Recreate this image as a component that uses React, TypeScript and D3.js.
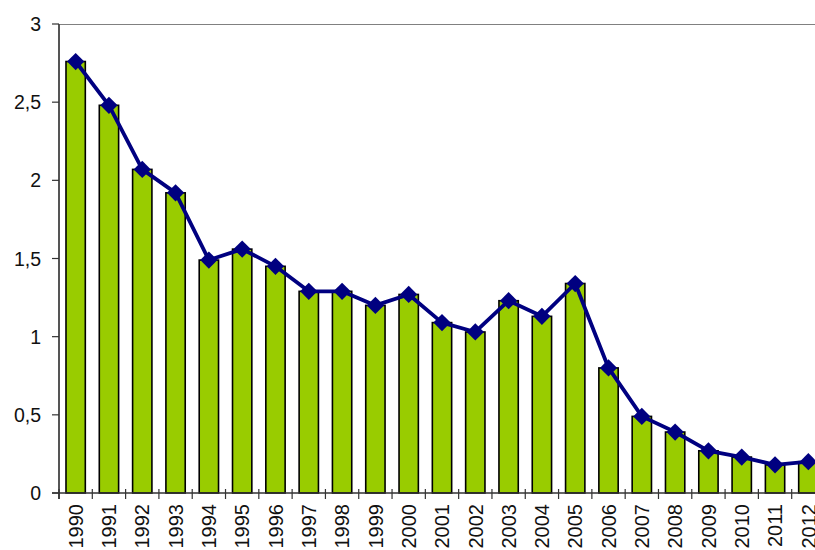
import React, { useEffect, useRef } from 'react';
import * as d3 from 'd3';

const years = ['1990', '1991', '1992', '1993', '1994', '1995', '1996', '1997', '1998', '1999', '2000', '2001',
  '2002', '2003', '2004', '2005', '2006', '2007', '2008', '2009', '2010', '2011', '2012'];
const barValues = [2.76, 2.48, 2.07, 1.92, 1.49, 1.56, 1.45, 1.29, 1.29, 1.2, 1.27, 1.09, 1.03, 1.23, 1.13,
  1.34, 0.8, 0.49, 0.39, 0.27, 0.23, 0.18, 0.2];
const lineValues = [2.76, 2.48, 2.07, 1.92, 1.49, 1.56, 1.45, 1.29, 1.29, 1.2, 1.27, 1.09, 1.03, 1.23, 1.13,
  1.34, 0.8, 0.49, 0.39, 0.27, 0.23, 0.18, 0.2];
const yTicks = [0, 0.5, 1, 1.5, 2, 2.5, 3];

const App = () => {
  const ref = useRef<SVGSVGElement>(null);

  useEffect(() => {
    const svg = d3.select(ref.current);
    svg.selectAll('*').remove();

    const left = 59, top = 24, bottom = 493, right = 825;
    const font = 'Liberation Sans, Arial, sans-serif';

    const x = d3.scaleBand().domain(years).range([left, right]).paddingInner(0).paddingOuter(0);
    const y = d3.scaleLinear().domain([0, 3]).range([bottom, top]);
    const bw = x.bandwidth();
    const barW = bw * 0.58;

    const g = svg.append('g');

    // top border of plot area
    g.append('line')
      .attr('x1', left).attr('x2', right)
      .attr('y1', top + 0.5).attr('y2', top + 0.5)
      .attr('stroke', '#808080').attr('stroke-width', 1.2);

    g.selectAll('.bar')
      .data(barValues)
      .enter().append('rect')
      .attr('x', (d, i) => x(years[i])! + (bw - barW) / 2)
      .attr('y', d => y(d))
      .attr('width', barW)
      .attr('height', d => bottom - y(d))
      .attr('fill', '#99CC00')
      .attr('stroke', '#000')
      .attr('stroke-width', 1.6);

    // y axis
    g.append('line')
      .attr('x1', left).attr('x2', left)
      .attr('y1', top).attr('y2', bottom + 6)
      .attr('stroke', '#555').attr('stroke-width', 2);
    g.selectAll('.ytick')
      .data(yTicks)
      .enter().append('line')
      .attr('x1', left - 7).attr('x2', left)
      .attr('y1', d => y(d)).attr('y2', d => y(d))
      .attr('stroke', '#333').attr('stroke-width', 1.2);
    g.selectAll('.ylab')
      .data(yTicks)
      .enter().append('text')
      .attr('x', 41)
      .attr('y', d => y(d))
      .attr('dy', '0.36em')
      .attr('text-anchor', 'end')
      .attr('font-family', font)
      .attr('font-size', 19.5)
      .attr('fill', '#111')
      .text(d => String(d).replace('.', ','));

    // x axis
    g.append('line')
      .attr('x1', left - 7).attr('x2', right)
      .attr('y1', bottom).attr('y2', bottom)
      .attr('stroke', '#333').attr('stroke-width', 1.5);
    g.selectAll('.xtick')
      .data(years)
      .enter().append('line')
      .attr('x1', d => x(d)!).attr('x2', d => x(d)!)
      .attr('y1', bottom - 4).attr('y2', bottom + 6)
      .attr('stroke', '#333').attr('stroke-width', 1.2);
    g.selectAll('.xlab')
      .data(years)
      .enter().append('text')
      .attr('transform', d => `translate(${x(d)! + bw / 2},${bottom + 11}) rotate(-90)`)
      .attr('dy', '0.36em')
      .attr('text-anchor', 'end')
      .attr('font-family', font)
      .attr('font-size', 20)
      .attr('fill', '#111')
      .text(d => d);

    // line series
    const line = d3.line<number>()
      .x((d, i) => x(years[i])! + bw / 2)
      .y(d => y(d));
    g.append('path')
      .datum(lineValues)
      .attr('d', line)
      .attr('fill', 'none')
      .attr('stroke', '#000080')
      .attr('stroke-width', 3.8)
      .attr('stroke-linejoin', 'round');

    const sym = d3.symbol().type(d3.symbolDiamond2).size(190);
    g.selectAll('.mark')
      .data(lineValues)
      .enter().append('path')
      .attr('d', sym)
      .attr('transform', (d, i) => `translate(${x(years[i])! + bw / 2},${y(d)})`)
      .attr('fill', '#000080');
  }, []);

  return <svg ref={ref} width={815} height={550} style={{ position: 'absolute', left: 0, top: 0 }} />;
};

export default App;
